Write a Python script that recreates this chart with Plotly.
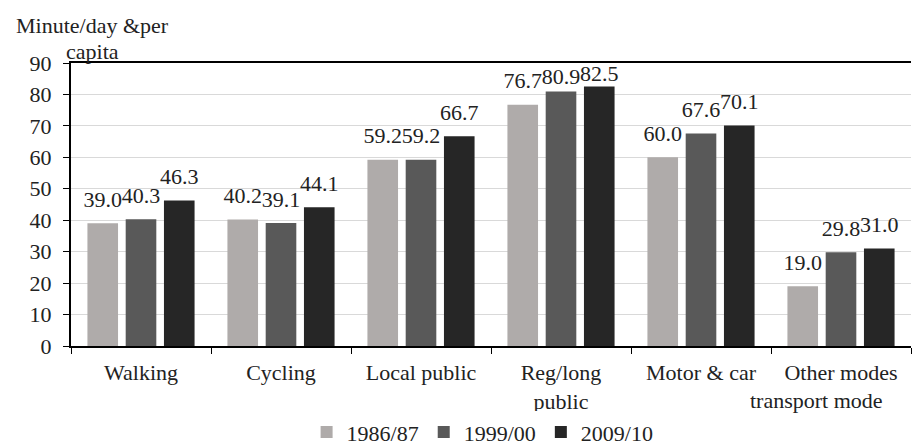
import plotly.graph_objects as go

categories = ["Walking", "Cycling", "Local public", "Reg/long<br>public", "Motor & car", "Other modes"]
series_names = ["1986/87", "1999/00", "2009/10"]
v_1986 = [39.0, 40.2, 59.2, 76.7, 60.0, 19.0]
v_1999 = [40.3, 39.1, 59.2, 80.9, 67.6, 29.8]
v_2009 = [46.3, 44.1, 66.7, 82.5, 70.1, 31.0]
colors = ["#AFABAA", "#595959", "#262626"]
y_ticks = [0, 10, 20, 30, 40, 50, 60, 70, 80, 90]

FONT = "Liberation Serif"
FS = 22
Y_MAX = 90
PLOT_H = 447 - 63 - 101
fig = go.Figure()
for name, vals, col in zip(series_names, [v_1986, v_1999, v_2009], colors):
    fig.add_trace(go.Bar(
        x=categories, y=vals, name=name, marker_color=col, marker_line_width=0,
    ))


def label_offset_sizes(vals):
    # keep labels inside the plot area like the source chart does
    px = PLOT_H / Y_MAX
    return [max(0.0, min(16.0, 2 * ((Y_MAX - v) * px - 28))) for v in vals]


for name, vals in zip(series_names, [v_1986, v_1999, v_2009]):
    fig.add_trace(go.Scatter(
        x=categories, y=vals, mode="markers+text", showlegend=False, hoverinfo="skip",
        marker=dict(size=label_offset_sizes(vals), opacity=0),
        text=[f"{v:.1f}" for v in vals], textposition="top center",
        textfont=dict(family=FONT, size=FS, color="#222"), cliponaxis=False,
    ))

fig.update_layout(
    width=912, height=447,
    margin=dict(l=71, r=1, t=63, b=101, autoexpand=False),
    paper_bgcolor="white", plot_bgcolor="white",
    font=dict(family=FONT, size=FS, color="#222"),
    barmode="group", bargap=0.18, bargroupgap=0.2,
    scattermode="group", scattergap=0.18,
    showlegend=True,
    legend=dict(orientation="h", x=0.49, xanchor="center", y=-0.305, yanchor="middle",
                font=dict(family=FONT, size=FS), itemwidth=30, traceorder="normal"),
    xaxis=dict(showline=True, linecolor="black", linewidth=2, mirror=True,
               ticks="outside", ticklen=6, tickcolor="black", tickwidth=1,
               tickson="boundaries", showgrid=False, automargin=False,
               ticklabelstandoff=6,
               tickfont=dict(family=FONT, size=FS)),
    yaxis=dict(range=[0, Y_MAX], tickvals=y_ticks, showline=True, linecolor="black", linewidth=2,
               ticks="outside", ticklen=6, tickcolor="black", automargin=False,
               ticklabelstandoff=7,
               showgrid=True, gridcolor="#D9D9D9", gridwidth=1, zeroline=False,
               tickfont=dict(family=FONT, size=FS)),
    annotations=[
        dict(text="Minute/day &per", xref="paper", yref="paper", x=0.025, y=1.134,
             xanchor="center", yanchor="middle", showarrow=False,
             font=dict(family=FONT, size=FS)),
        dict(text="capita", xref="paper", yref="paper", x=0.025, y=1.039,
             xanchor="center", yanchor="middle", showarrow=False,
             font=dict(family=FONT, size=FS)),
        dict(text="transport mode", xref="paper", yref="paper", x=0.887, y=-0.194,
             xanchor="center", yanchor="middle", showarrow=False,
             font=dict(family=FONT, size=FS)),
    ],
)
fig.write_html("out.html", config={"displayModeBar": False},
               post_script="document.body.style.margin='0';document.body.style.overflow='hidden';")
